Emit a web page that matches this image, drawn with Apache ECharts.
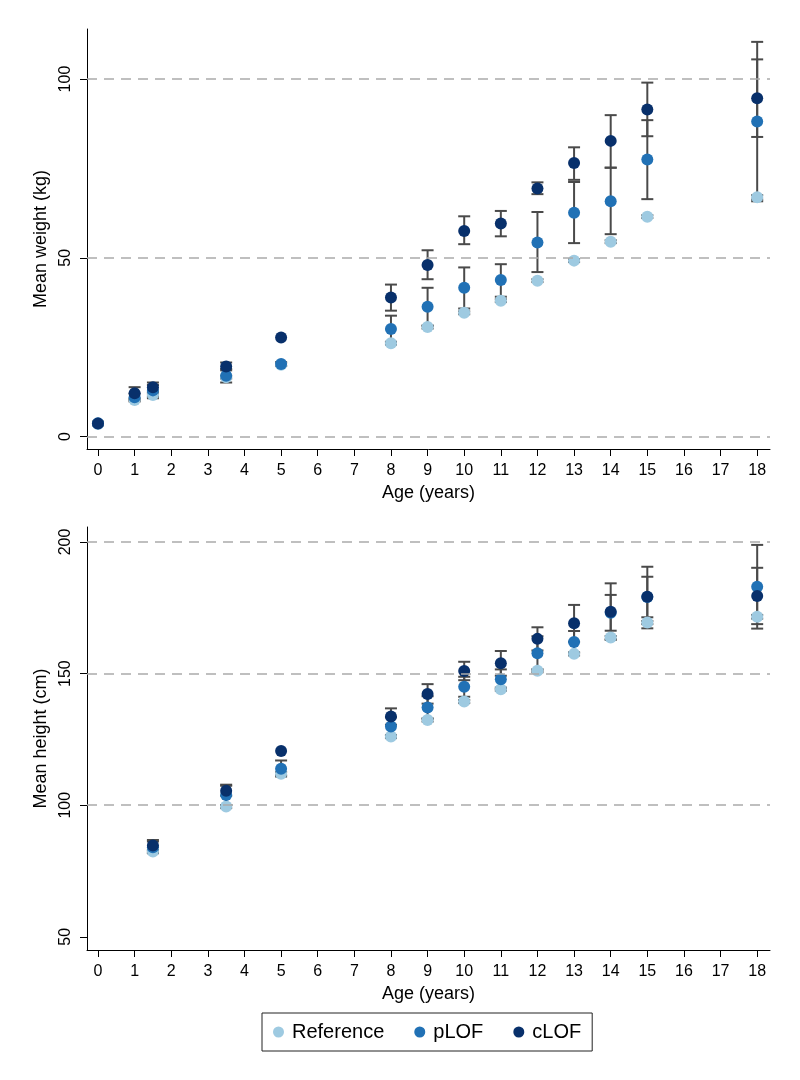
<!DOCTYPE html>
<html>
<head>
<meta charset="utf-8">
<script src="https://cdn.jsdelivr.net/npm/echarts@6/dist/echarts.min.js"></script>
<style>
html,body{margin:0;padding:0;background:#fff;}
#chart{width:800px;height:1080px;}
</style>
</head>
<body>
<div id="chart"></div>
<script>
// ---- Data ----
const xTicks = [0,1,2,3,4,5,6,7,8,9,10,11,12,13,14,15,16,17,18];
const yTicksW = [0,50,100];
const gridW = [0,50,100];
const yTicksH = [50,100,150,200];
const gridH = [100,150,200];

// Weight (kg)
const ageW   = [0, 1, 1.5, 3.5, 5, 8, 9, 10, 11, 12, 13, 14, 15, 18];
const refW   = [3.5, 10.2, 11.6, 16.6, 20.1, 26.1, 30.6, 34.6, 38.0, 43.6, 49.2, 54.5, 61.5, 66.9];
const refWLo = [3.1, 9.8, 11.2, 16.2, 19.7, 25.7, 30.2, 34.2, 37.6, 43.2, 48.8, 54.1, 61.1, 66.3];
const refWHi = [3.9, 10.6, 12.0, 17.0, 20.5, 26.5, 31.0, 35.0, 38.4, 44.0, 49.6, 54.9, 61.9, 67.5];
const pW     = [3.7, 11.0, 12.9, 17.0, 20.3, 30.1, 36.3, 41.6, 43.8, 54.3, 62.6, 65.8, 77.5, 88.1];
const pWLo   = [3.2, 10.1, 10.7, 15.1, 19.8, 26.4, 31.0, 35.8, 39.1, 46.0, 54.1, 56.6, 66.4, 65.8];
const pWHi   = [4.2, 12.0, 14.4, 18.9, 20.8, 33.8, 41.6, 47.3, 48.2, 62.8, 71.2, 75.2, 88.5, 110.4];
const cW     = [3.6, 12.1, 13.8, 19.6, 27.7, 38.9, 48.0, 57.5, 59.6, 69.4, 76.5, 82.7, 91.5, 94.6];
const cWLo   = [3.2, 10.4, 12.4, 18.5, null, 35.2, 44.0, 53.8, 56.0, 67.8, 71.8, 75.2, 84.0, 83.8];
const cWHi   = [4.0, 13.8, 15.1, 20.7, null, 42.5, 52.1, 61.6, 63.1, 71.1, 80.9, 89.9, 99.0, 105.5];

// Height (cm)
const ageH   = [1.5, 3.5, 5, 8, 9, 10, 11, 12, 13, 14, 15, 18];
const refH   = [82.4, 99.5, 112.0, 126.1, 132.4, 139.4, 144.1, 151.1, 157.5, 163.7, 169.4, 171.6];
const refHLo = [81.8, 98.9, 111.4, 125.5, 131.8, 138.8, 143.5, 150.5, 156.9, 163.1, 168.8, 170.9];
const refHHi = [83.0, 100.1, 112.6, 126.7, 133.0, 140.0, 144.7, 151.7, 158.1, 164.3, 170.0, 172.3];
const pH     = [84.0, 103.9, 113.9, 129.9, 137.1, 145.0, 147.9, 157.7, 162.0, 173.1, 179.1, 183.0];
const pHLo   = [81.8, 100.0, 110.9, 126.4, 132.8, 141.2, 144.2, 151.2, 157.8, 166.3, 171.4, 167.1];
const pHHi   = [86.2, 107.8, 117.0, 133.4, 141.4, 148.8, 151.6, 164.2, 166.2, 179.9, 186.8, 198.9];
const cH     = [84.7, 105.5, 120.6, 133.7, 142.3, 151.0, 153.9, 163.2, 169.1, 173.5, 179.2, 179.5];
const cHLo   = [82.6, 103.6, null, 130.6, 138.6, 147.5, 149.2, 158.8, 162.1, 162.8, 167.2, 168.8];
const cHHi   = [86.8, 107.4, null, 136.8, 146.0, 154.5, 158.6, 167.6, 176.1, 184.3, 190.6, 190.2];

// ---- Styles ----
const COL_REF = '#9ecae1';
const COL_P = '#2171b5';
const COL_C = '#08306b';
const BAR_COL = '#4a4a4a';
const FONT = 'Liberation Sans, Arial, sans-serif';

function pts(ages, vals) { return ages.map((a, i) => [a, vals[i]]); }
function bars(ages, lo, hi) {
  const out = [];
  ages.forEach((a, i) => { if (lo[i] != null && hi[i] != null) out.push([a, lo[i], hi[i]]); });
  return out;
}
function renderBar(params, api) {
  const x = api.value(0), l = api.value(1), h = api.value(2);
  const pt = api.coord([x, h]);
  const pb = api.coord([x, l]);
  const w = 6;
  const st = { stroke: BAR_COL, lineWidth: 2 };
  return {
    type: 'group',
    children: [
      { type: 'line', shape: { x1: pt[0], y1: pt[1], x2: pb[0], y2: pb[1] }, style: st },
      { type: 'line', shape: { x1: pt[0] - w, y1: pt[1], x2: pt[0] + w, y2: pt[1] }, style: st },
      { type: 'line', shape: { x1: pb[0] - w, y1: pb[1], x2: pb[0] + w, y2: pb[1] }, style: st }
    ]
  };
}
function barSeries(idx, data) {
  return {
    type: 'custom', xAxisIndex: idx, yAxisIndex: idx, silent: true,
    renderItem: renderBar, encode: { x: 0, y: [1, 2] }, data: data
  };
}
function scatterSeries(idx, name, color, data, gridVals) {
  const s = {
    type: 'scatter', name: name, xAxisIndex: idx, yAxisIndex: idx,
    symbol: 'circle', symbolSize: 12, silent: true,
    itemStyle: { color: color, opacity: 1 }, data: data
  };
  if (gridVals) {
    s.markLine = {
      silent: true, symbol: ['none', 'none'], animation: false,
      label: { show: false },
      lineStyle: { color: '#aaaaaa', width: 1.5, type: [10, 7] },
      data: gridVals.map(v => ({ yAxis: v }))
    };
  }
  return s;
}
function xAx(idx) {
  return {
    type: 'value', gridIndex: idx, min: -0.3, max: 18.35,
    name: 'Age (years)', nameLocation: 'middle', nameGap: 35,
    nameTextStyle: { fontFamily: FONT, fontSize: 18, color: '#000' },
    axisLine: { show: true, onZero: false, lineStyle: { color: '#000', width: 1 } },
    axisTick: { show: true, length: 7, customValues: xTicks, lineStyle: { color: '#000', width: 1 } },
    axisLabel: { customValues: xTicks, margin: 14, fontFamily: FONT, fontSize: 16, color: '#000' },
    splitLine: { show: false }
  };
}
function yAx(idx, name, min, max, ticks) {
  return {
    type: 'value', gridIndex: idx, min: min, max: max,
    name: name, nameLocation: 'middle', nameGap: 29, nameRotate: 90,
    nameTextStyle: { fontFamily: FONT, fontSize: 18, color: '#000' },
    axisLine: { show: true, onZero: false, lineStyle: { color: '#000', width: 1 } },
    axisTick: { show: true, length: 7, customValues: ticks, lineStyle: { color: '#000', width: 1 } },
    axisLabel: { customValues: ticks, rotate: 90, margin: 13, fontFamily: FONT, fontSize: 16, color: '#000' },
    splitLine: { show: false }
  };
}

const chart = echarts.init(document.getElementById('chart'), null, { renderer: 'canvas' });
chart.setOption({
  backgroundColor: '#fff',
  animation: false,
  grid: [
    { left: 87, top: 29, width: 683, height: 420 },
    { left: 87, top: 527, width: 683, height: 423 }
  ],
  xAxis: [xAx(0), xAx(1)],
  yAxis: [
    yAx(0, 'Mean weight (kg)', -3.5, 114, yTicksW),
    yAx(1, 'Mean height (cm)', 45, 205.7, yTicksH)
  ],
  legend: {
    left: 262, top: 1013,
    data: ['Reference', 'pLOF', 'cLOF'],
    icon: 'circle', itemWidth: 11, itemHeight: 11, itemGap: 30,
    padding: [9, 11, 9, 11],
    borderColor: '#222', borderWidth: 1, backgroundColor: '#fff',
    textStyle: { fontFamily: FONT, fontSize: 20, color: '#000', padding: [0, 0, 0, 3] },
    selectedMode: false
  },
  series: [
    scatterSeries(0, 'Reference', COL_REF, pts(ageW, refW), gridW),
    barSeries(0, bars(ageW, refWLo, refWHi)),
    barSeries(0, bars(ageW, pWLo, pWHi)),
    scatterSeries(0, 'pLOF', COL_P, pts(ageW, pW)),
    barSeries(0, bars(ageW, cWLo, cWHi)),
    scatterSeries(0, 'cLOF', COL_C, pts(ageW, cW)),

    scatterSeries(1, 'Reference', COL_REF, pts(ageH, refH), gridH),
    barSeries(1, bars(ageH, refHLo, refHHi)),
    barSeries(1, bars(ageH, pHLo, pHHi)),
    scatterSeries(1, 'pLOF', COL_P, pts(ageH, pH)),
    barSeries(1, bars(ageH, cHLo, cHHi)),
    scatterSeries(1, 'cLOF', COL_C, pts(ageH, cH))
  ]
});
</script>
</body>
</html>
